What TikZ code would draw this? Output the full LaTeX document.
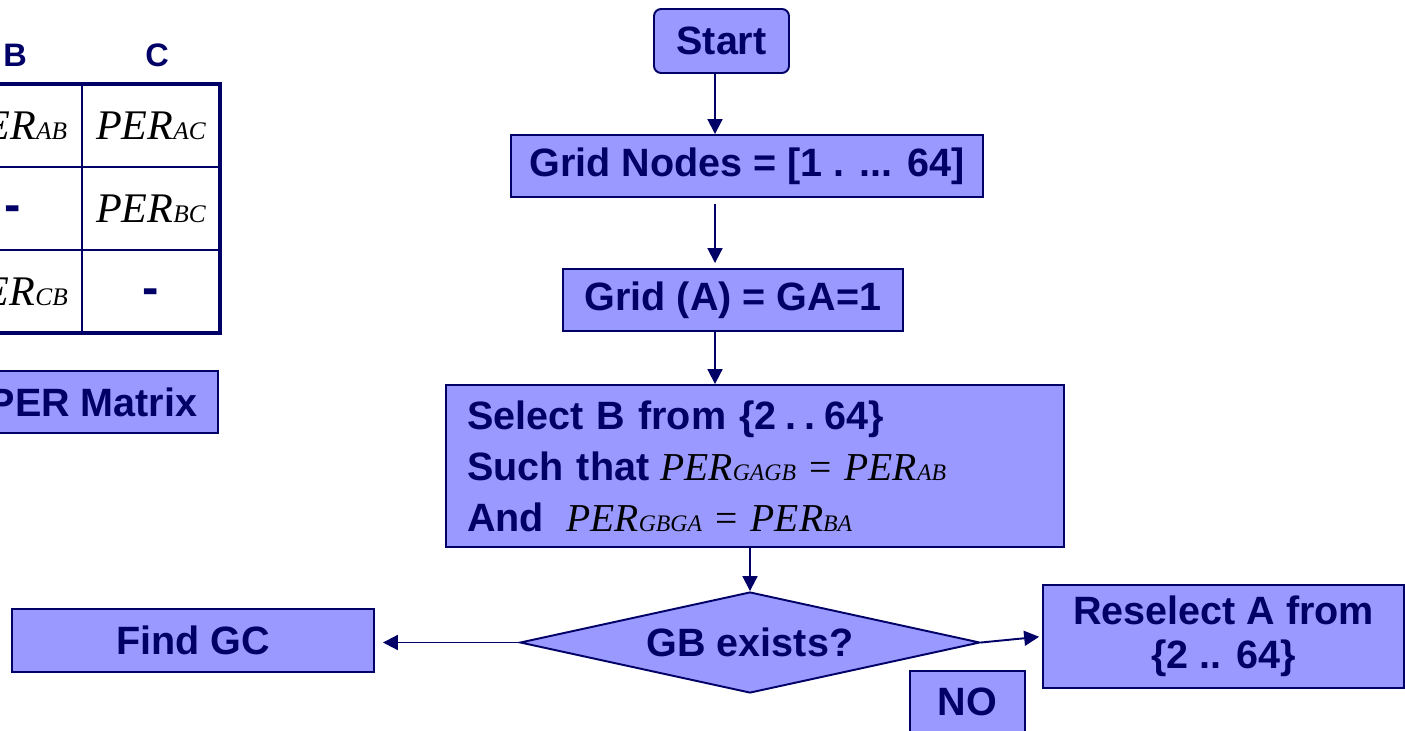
\documentclass[tikz,border=0pt]{standalone}
\usepackage{fontspec}
\setmainfont{Liberation Sans}
\newfontfamily\tms{Liberation Serif}
\usepackage{xcolor}
\usetikzlibrary{arrows.meta,shapes.geometric,positioning}
\definecolor{boxfill}{RGB}{153,153,255}
\definecolor{flownavy}{RGB}{0,0,102}
\newcommand{\per}[1]{{\tms\mdseries\itshape\color{black}PER\scalebox{0.6}{#1}}}
\newcommand{\eqs}{{\tms\mdseries\color{black}\ = }}

\begin{document}
\begin{tikzpicture}[x=0.02cm, y=-0.02cm,
  box/.style={draw=flownavy, fill=boxfill, line width=1.1pt, text=flownavy, font=\fontsize{22.5}{25}\selectfont\bfseries, inner sep=0pt, align=center},
  dec/.style={box, diamond, aspect=4.55, minimum width=9.2cm, minimum height=2.02cm},
  arr/.style={-{Triangle[length=8.5pt,width=8.5pt]}, draw=flownavy, line width=1.1pt},
  cell/.style={font=\fontsize{24}{24}\selectfont, inner sep=0pt},
  hdr/.style={text=flownavy, font=\fontsize{18.5}{18.5}\selectfont\bfseries, inner sep=0pt},
  nocell/.style={text=flownavy, font=\fontsize{28}{28}\selectfont\bfseries, inner sep=0pt}
]
\useasboundingbox (0,0) rectangle (1405,730);
\clip (0,0) rectangle (1405,730);

% PER matrix (cut at the left edge)
\node[hdr] (hb) at (15,55) {B};
\node[hdr] (hc) at (157,55) {C};
\draw[flownavy, line width=1.1pt] (-56,167) -- (220,167) (-56,250) -- (220,250) (82,84) -- (82,333);
\draw[flownavy, line width=2.3pt] (-56,84) rectangle (220,333);
\node[cell] (pab) at (13,125.5) {\per{AB}};
\node[cell] (pac) at (151,125.5) {\per{AC}};
\node[nocell] (nbb) at (13,214) {-};
\node[cell] (pbc) at (151,208.5) {\per{BC}};
\node[cell] (pcb) at (13,291.5) {\per{CB}};
\node[nocell] (ncc) at (151,297) {-};
\node[box, minimum width=5cm, minimum height=1.24cm] (pm) at (93,402) {PER Matrix};

% flow chart
\node[box, rounded corners=4pt, minimum width=2.7cm, minimum height=1.28cm] (start) at (721.5,41) {Start};
\node[box, minimum width=9.44cm, minimum height=1.24cm] (gn) at (747,166) {Grid Nodes = [1 . ... 64]};
\node[box, minimum width=6.8cm, minimum height=1.24cm] (ga) at (733,300) {Grid (A) = GA=1};
\node[box, align=left, text width=11.52cm, inner xsep=0.42cm, minimum height=3.24cm, font=\fontsize{22.5}{29}\selectfont\bfseries] (sel) at (755,466)
  {Select B from \{2\hspace{0.17cm}.\hspace{0.17cm}.\hspace{0.17cm}64\}\\
   Such that\hspace{0.22cm}\per{GAGB}\eqs\per{AB}\\
   And\hspace{0.45cm}\per{GBGA}\eqs\per{BA}};
\node[dec] (dia) at (750,642.5) {GB exists?};
\node[box, minimum width=7.24cm, minimum height=1.26cm] (fgc) at (193,640.5) {Find GC};
\node[box, minimum width=7.22cm, minimum height=2.06cm] (rs) at (1223.5,636.5) {Reselect A from\\\{2 .. 64\}};
\node[box, minimum width=2.3cm, minimum height=1.24cm] (no) at (967.5,702) {NO};

\coordinate (spine) at (715,0);
\draw[arr] (start.south -| spine) -- (gn.north -| spine);
\draw[arr, shorten <=0.12cm, shorten >=0.1cm] (gn.south -| spine) -- (ga.north -| spine);
\draw[arr] (ga.south -| spine) -- (sel.north -| spine);
\draw[arr] (sel.south -| dia.north) -- (dia.north);
\draw[arr, shorten >=0.16cm] (dia.west) -- (dia.west -| fgc.east);
\draw[arr, shorten >=0.06cm] (dia.east) -- (rs.west);
\end{tikzpicture}
\end{document}
